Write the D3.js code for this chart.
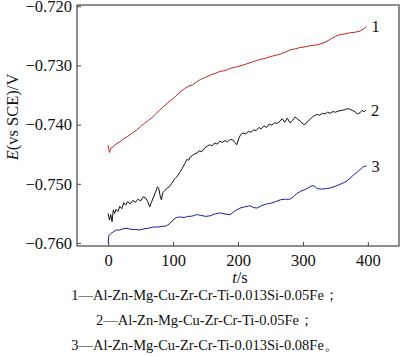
<!DOCTYPE html>
<html><head><meta charset="utf-8">
<script src="https://cdn.jsdelivr.net/npm/d3@7"></script>
<style>body{margin:0;background:#fff}svg{display:block}
text{font-family:"Liberation Serif","DejaVu Serif",serif}</style>
</head><body><svg id="c" width="400" height="357"></svg>
<script>
const xTicks = [0, 100, 200, 300, 400];
const yTicks = [-0.760, -0.750, -0.740, -0.730, -0.720];
const seriesNames = ["1", "2", "3"];
const captions = [
  "1—Al-Zn-Mg-Cu-Zr-Cr-Ti-0.013Si-0.05Fe；",
  "2—Al-Zn-Mg-Cu-Zr-Cr-Ti-0.05Fe；",
  "3—Al-Zn-Mg-Cu-Zr-Cr-Ti-0.013Si-0.08Fe。"
];
const t1 = [0,2,4,8,12,18,24,30,36,44,50,56,62,68,74,80,86,92,100,106,112,118,124,130,136,142,150,158,166,172,180,188,196,203,212,220,228,234,242,250,258,265,272,280,288,295,302,310,318,326,334,342,350,357,364,372,380,388,394,398];
const v1 = [-0.7435,-0.7447,-0.7440,-0.7437,-0.7433,-0.7429,-0.7424,-0.7420,-0.7415,-0.7409,-0.7403,-0.7398,-0.7393,-0.7388,-0.7381,-0.7375,-0.7369,-0.7363,-0.7356,-0.7350,-0.7344,-0.7339,-0.7335,-0.7333,-0.7328,-0.7324,-0.7320,-0.7316,-0.7313,-0.7310,-0.7309,-0.7305,-0.7303,-0.7301,-0.7298,-0.7295,-0.7292,-0.7290,-0.7288,-0.7285,-0.7283,-0.7281,-0.7278,-0.7274,-0.7272,-0.7270,-0.7269,-0.7267,-0.7266,-0.7264,-0.7261,-0.7256,-0.7251,-0.7248,-0.7247,-0.7245,-0.7244,-0.7242,-0.7238,-0.7234];
const t2 = [0,2,4,6,8,10,12,15,18,21,24,27,30,34,38,42,46,50,54,58,61,64,67,70,73,76,78,80,82,84,87,90,94,98,102,106,110,114,118,121,124,127,130,134,137,140,144,148,152,156,160,164,168,172,176,180,184,188,192,195,198,201,204,208,212,216,220,224,228,232,236,240,244,248,252,256,260,265,268,272,276,280,284,288,292,296,300,303,307,312,316,321,326,330,334,338,342,346,350,355,360,364,368,372,376,380,384,388,391,394,397];
const v2 = [-0.7550,-0.7561,-0.7552,-0.7564,-0.7544,-0.7550,-0.7543,-0.7547,-0.7538,-0.7542,-0.7532,-0.7536,-0.7530,-0.7534,-0.7528,-0.7531,-0.7526,-0.7529,-0.7522,-0.7524,-0.7530,-0.7539,-0.7530,-0.7522,-0.7514,-0.7505,-0.7508,-0.7520,-0.7527,-0.7515,-0.7512,-0.7508,-0.7505,-0.7499,-0.7492,-0.7488,-0.7481,-0.7474,-0.7466,-0.7459,-0.7460,-0.7454,-0.7452,-0.7449,-0.7448,-0.7444,-0.7446,-0.7440,-0.7437,-0.7434,-0.7436,-0.7431,-0.7433,-0.7428,-0.7430,-0.7427,-0.7429,-0.7425,-0.7426,-0.7430,-0.7434,-0.7424,-0.7417,-0.7414,-0.7416,-0.7411,-0.7413,-0.7409,-0.7410,-0.7405,-0.7407,-0.7402,-0.7405,-0.7399,-0.7401,-0.7397,-0.7398,-0.7394,-0.7390,-0.7396,-0.7389,-0.7397,-0.7393,-0.7387,-0.7391,-0.7394,-0.7399,-0.7400,-0.7395,-0.7390,-0.7386,-0.7383,-0.7384,-0.7381,-0.7382,-0.7379,-0.7381,-0.7378,-0.7379,-0.7377,-0.7376,-0.7375,-0.7373,-0.7374,-0.7376,-0.7378,-0.7382,-0.7380,-0.7376,-0.7378,-0.7376];
const t3 = [0,1,4,8,13,18,23,29,35,41,49,55,62,69,76,83,90,95,100,105,111,117,122,126,131,136,142,150,157,164,172,180,188,195,203,210,218,224,229,236,244,250,258,265,272,280,285,290,296,302,308,314,318,322,329,336,342,350,357,363,368,374,379,384,389,393,398];
const v3 = [-0.7600,-0.7588,-0.7584,-0.7581,-0.7578,-0.7578,-0.7576,-0.7575,-0.7577,-0.7577,-0.7578,-0.7576,-0.7575,-0.7573,-0.7573,-0.7572,-0.7571,-0.7567,-0.7561,-0.7557,-0.7556,-0.7557,-0.7555,-0.7555,-0.7554,-0.7552,-0.7553,-0.7555,-0.7554,-0.7551,-0.7549,-0.7551,-0.7552,-0.7546,-0.7541,-0.7539,-0.7537,-0.7540,-0.7541,-0.7537,-0.7534,-0.7533,-0.7530,-0.7527,-0.7526,-0.7526,-0.7522,-0.7517,-0.7513,-0.7510,-0.7507,-0.7503,-0.7504,-0.7508,-0.7509,-0.7508,-0.7507,-0.7504,-0.7501,-0.7498,-0.7495,-0.7489,-0.7484,-0.7480,-0.7475,-0.7471,-0.7470];

const series = [
  {name: seriesNames[0], t: t1, v: v1, color: "#b8282a"},
  {name: seriesNames[1], t: t2, v: v2, color: "#111111"},
  {name: seriesNames[2], t: t3, v: v3, color: "#1c1c96"}
];

const svg = d3.select("#c");
const L = 77, R = 399, T = 5, B = 246;
const x = d3.scaleLinear().domain([-48, 448]).range([L, R]);
const y = d3.scaleLinear().domain([-0.7605, -0.7198]).range([B, T]);
const font = '"Liberation Serif","DejaVu Serif",serif';
const axisColor = "#444";

svg.append("rect").attr("x", L).attr("y", T).attr("width", R - L).attr("height", B - T)
  .attr("fill", "none").attr("stroke", axisColor).attr("stroke-width", 1.2);

const fmt = d => "\u2212" + Math.abs(d).toFixed(3);
const gx = svg.append("g").attr("transform", `translate(0,${B})`)
  .call(d3.axisBottom(x).tickValues(xTicks).tickSizeInner(-4).tickSizeOuter(0).tickPadding(8));
const gy = svg.append("g").attr("transform", `translate(${L},0)`)
  .call(d3.axisLeft(y).tickValues(yTicks).tickFormat(fmt).tickSizeInner(-4).tickSizeOuter(0).tickPadding(5));
[gx, gy].forEach(g => {
  g.attr("font-family", null).attr("font-size", null);
  g.select(".domain").remove();
  g.selectAll("line").attr("stroke", axisColor);
  g.selectAll("text").style("font-family", font).style("font-size", "16.5px").attr("fill", "#111");
});

const line = d3.line().x(d => x(d[0])).y(d => y(d[1]));
series.forEach(s => {
  const pts = s.t.map((t, i) => [t, s.v[i]]);
  svg.append("path").datum(pts).attr("d", line)
    .attr("fill", "none").attr("stroke", s.color).attr("stroke-width", 1)
    .attr("stroke-linejoin", "round");
  const last = pts[pts.length - 1];
  svg.append("text").attr("x", x(last[0]) + 5).attr("y", y(last[1]) + 6)
    .style("font-family", font).style("font-size", "16.5px").attr("fill", "#111").text(s.name);
});

const yl = svg.append("text").attr("transform", "translate(18,117) rotate(-90)")
  .attr("text-anchor", "middle").style("font-family", font).style("font-size", "16.5px").attr("fill", "#111");
yl.append("tspan").attr("font-style", "italic").text("E");
yl.append("tspan").text("(vs SCE)/V");

const xl = svg.append("text").attr("x", 240).attr("y", 283)
  .attr("text-anchor", "middle").style("font-family", font).style("font-size", "16.5px").attr("fill", "#111");
xl.append("tspan").attr("font-style", "italic").text("t");
xl.append("tspan").text("/s");

const capY = [300, 325, 350];
captions.forEach((c, i) => {
  svg.append("text").attr("x", 205).attr("y", capY[i]).attr("text-anchor", "middle")
    .style("font-family", font).style("font-size", "14.5px").attr("fill", "#111").text(c);
});
</script></body></html>
